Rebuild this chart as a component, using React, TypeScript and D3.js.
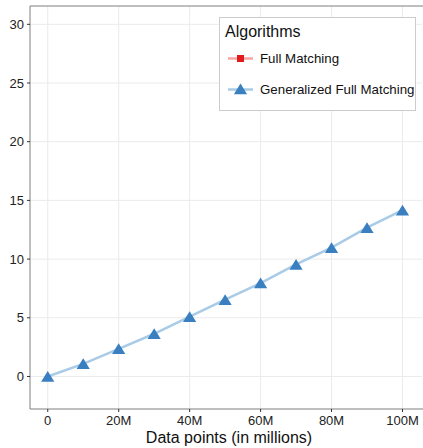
import React from "react";
import * as d3 from "d3";

const xValues = [0, 10, 20, 30, 40, 50, 60, 70, 80, 90, 100];
const fullMatching: number[] = [];
const generalizedFullMatching = [0, 1.08, 2.36, 3.64, 5.09, 6.54, 7.96, 9.55, 10.97, 12.68, 14.17];
const xTicks = [0, 20, 40, 60, 80, 100];
const xTickLabels = ["0", "20M", "40M", "60M", "80M", "100M"];
const yTicks = [0, 5, 10, 15, 20, 25, 30];
const legendLabels = ["Full Matching", "Generalized Full Matching"];

const W = 423, H = 448;
const left = 30, right = 422, top = 6, bottom = 409;

export default function App() {
  const x = d3.scaleLinear().domain([-5, 105.5]).range([left, right]);
  const y = d3.scaleLinear().domain([-2.77, 31.56]).range([bottom, top]);
  const line = d3.line<number>().x((_, i) => x(xValues[i])).y((d) => y(d));
  const font = "Liberation Sans, Arial, sans-serif";
  const tri = (cx: number, cy: number, s = 6) =>
    `M${cx},${cy - s}L${cx + s * 1.1},${cy + s * 0.8}L${cx - s * 1.1},${cy + s * 0.8}Z`;
  return (
    <svg width={W} height={H} style={{ position: "absolute", left: 0, top: 0 }} fontFamily={font}>
      <rect x={0} y={0} width={W} height={H} fill="#fff" />
      {yTicks.map((t) => (
        <line key={"gy" + t} x1={left} x2={right} y1={y(t)} y2={y(t)} stroke="#ebebeb" strokeWidth={1} />
      ))}
      {xTicks.map((t) => (
        <line key={"gx" + t} x1={x(t)} x2={x(t)} y1={top} y2={bottom} stroke="#ebebeb" strokeWidth={1} />
      ))}
      <line x1={left} x2={right + 1} y1={top} y2={top} stroke="#7f7f7f" strokeWidth={1} />
      <line x1={left} x2={left} y1={top} y2={bottom} stroke="#7f7f7f" strokeWidth={1} />
      <line x1={left} x2={right + 1} y1={bottom} y2={bottom} stroke="#7f7f7f" strokeWidth={1} />
      {yTicks.map((t) => (
        <g key={"ty" + t}>
          <line x1={left - 3} x2={left} y1={y(t)} y2={y(t)} stroke="#333" strokeWidth={1} />
          <text x={left - 6} y={y(t)} dy="0.35em" textAnchor="end" fontSize={13} fill="#222">{t}</text>
        </g>
      ))}
      {xTicks.map((t, i) => (
        <g key={"tx" + t}>
          <line x1={x(t)} x2={x(t)} y1={bottom} y2={bottom + 3} stroke="#333" strokeWidth={1} />
          <text x={x(t)} y={bottom + 16} textAnchor="middle" fontSize={13} fill="#222">{xTickLabels[i]}</text>
        </g>
      ))}
      <text x={(left + right) / 2 + 3} y={443} textAnchor="middle" fontSize={16} fill="#111">Data points (in millions)</text>

      <path d={line(fullMatching) || ""} fill="none" stroke="#f7a6a6" strokeWidth={2.5} />
      {fullMatching.map((v, i) => (
        <rect key={"r" + i} x={x(xValues[i]) - 3.5} y={y(v) - 3.5} width={7} height={7} fill="#e31a1c" />
      ))}
      <path d={line(generalizedFullMatching) || ""} fill="none" stroke="#a9cbe6" strokeWidth={2.5} />
      {generalizedFullMatching.map((v, i) => (
        <path key={"t" + i} d={tri(x(xValues[i]), y(v) + 0.5)} fill="#3a7fbf" />
      ))}

      <rect x={219.5} y={17.5} width={196} height={93} fill="#fff" stroke="#cccccc" strokeWidth={1} />
      <text x={225} y={37} fontSize={16} fill="#111">Algorithms</text>
      <line x1={228} x2={253} y1={58.5} y2={58.5} stroke="#f7a6a6" strokeWidth={2.5} />
      <rect x={237} y={55} width={7} height={7} fill="#e31a1c" />
      <text x={260} y={58.5} dy="0.35em" fontSize={13.3} fill="#111">{legendLabels[0]}</text>
      <line x1={228} x2={253} y1={89.5} y2={89.5} stroke="#a9cbe6" strokeWidth={2.5} />
      <path d={tri(240.5, 89.5)} fill="#3a7fbf" />
      <text x={260} y={89.5} dy="0.35em" fontSize={13.3} fill="#111">{legendLabels[1]}</text>
    </svg>
  );
}
